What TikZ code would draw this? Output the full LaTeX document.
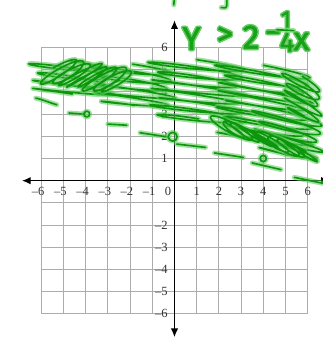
\documentclass[tikz,border=0pt]{standalone}
\usepackage{fontspec}
\setmainfont{Liberation Serif}
\newfontfamily\handfont{Fira Sans}[FakeBold=1.5]
\usetikzlibrary{arrows.meta}
\definecolor{core}{RGB}{12,150,12}
\definecolor{halo}{RGB}{100,205,100}
\definecolor{handc}{RGB}{25,160,25}
\definecolor{gridc}{RGB}{172,172,172}
% looped scribble: centre moves (#1,#2)->(#3,#4); strokes at angle #5, half length #6,
% loop width #7, #8 cycles, #9 samples
\newcommand\scribble[9]{%
  \draw[scrib] plot[smooth,variable=\t,domain=0:#8,samples=#9]
   ({#1+(#3-#1)*\t/#8+#6*(1+0.12*sin(137*\t))*cos(#5)*sin(360*\t)-#7*(1+0.5*sin(71*\t))*sin(#5)*cos(360*\t)},
    {#2+(#4-#2)*\t/#8+#6*(1+0.12*sin(137*\t))*sin(#5)*sin(360*\t)+#7*(1+0.5*sin(71*\t))*cos(#5)*cos(360*\t)});}
\newcommand\hw[4]{%
  \foreach \aa in {0,45,...,315}
    \node[font=\handfont\fontsize{#3}{#3}\selectfont,text=halo,inner sep=0pt,shift={(\aa:1.2pt)}] at (#2) {#4};
  \node[font=\handfont\fontsize{#3}{#3}\selectfont,text=handc,inner sep=0pt] (#1) at (#2) {#4};}
\begin{document}
\begin{tikzpicture}[x=17.76pt,y=17.76pt,
  gridline/.style={draw=gridc,line width=0.7pt},
  axis/.style={draw=black,line width=1.1pt},
  lab/.style={font=\fontsize{10}{10}\selectfont,text=black!80,inner sep=0pt},
  scrib/.style={draw=core,line width=1.3pt,line cap=round,line join=round,
     preaction={draw=halo,line width=4pt,opacity=0.6,line cap=round,line join=round}}]
\useasboundingbox (-7.860,-7.041) rectangle (6.689,8.140);
% grid
\draw[gridline,step=1] (-6,-6) grid (6,6);
% labels
\foreach \i in {1,...,6} {
  \node[lab] (xp\i) at (\i,-0.47) {\i};
  \node[lab] (xn\i) at (-\i,-0.47) {\llap{\textendash}\i};
  \node[lab,anchor=east] (yp\i) at (-0.3,\i) {\i};
}
\foreach \i in {2,...,6} \node[lab,anchor=east] (yn\i) at (-0.3,-\i) {\textendash\i};
\node[lab] (x0) at (-0.29,-0.47) {0};
% axes
\draw[axis,{Latex[length=7pt,width=6pt]}-{Latex[length=7pt,width=6pt]}] (-6.87,0) -- (7.0,0);
\draw[axis,{Latex[length=7pt,width=6pt]}-{Latex[length=7pt,width=6pt]}] (0,-7.05) -- (0,7.23);
% scribbled region
\scribble{-4.7}{5.3}{-4.6}{3.85}{-7}{1.7}{0.1}{4}{97}
\scribble{-1.9}{5.15}{-1.8}{3.3}{-7}{1.7}{0.1}{5}{121}
\scribble{1.0}{5.35}{1.1}{2.65}{-7}{2.0}{0.1}{7}{169}
\scribble{4.0}{5.1}{4.1}{1.7}{-10}{2.0}{0.1}{9}{217}
\scribble{5.1}{3.0}{5.1}{1.05}{-15}{1.5}{0.1}{5}{121}
\scribble{5.7}{4.6}{5.8}{2.8}{-30}{0.9}{0.12}{5}{121}
\scribble{-5.4}{4.95}{-2.4}{4.45}{30}{0.95}{0.15}{8}{193}
\scribble{2.2}{2.5}{5.9}{1.25}{-30}{0.9}{0.15}{9}{217}
% dashed boundary with points
\draw[scrib] (-6.25,3.72) .. controls (-5.9,3.65) and (-5.6,3.5) .. (-5.3,3.42);
\draw[scrib] (-4.75,3.05) -- (-4.1,3.0);
\draw[scrib] (-3.95,3.0) circle (0.13);
\draw[scrib] (-3.0,2.55) -- (-2.15,2.5);
\draw[scrib] (-1.55,2.16) -- (-0.3,1.97);
\draw[scrib] (-0.08,1.98) circle (0.2);
\draw[scrib] (0.1,1.65) -- (1.4,1.5);
\draw[scrib] (1.8,1.25) -- (3.1,1.05);
\draw[scrib] (4.0,1.0) circle (0.14);
\draw[scrib] (3.5,0.8) -- (4.8,0.5);
\draw[scrib] (5.4,0.15) -- (6.7,-0.12);
% handwriting
\draw[scrib] (0.0,8.3) -- (-0.03,7.92);
\draw[scrib] (2.36,8.3) -- (2.36,7.9) .. controls (2.34,7.78) .. (2.1,7.8);
\hw{hy}{0.766,6.405}{26}{Y}
\hw{hgt}{2.27,6.52}{26}{>}
\hw{htwo}{3.45,6.47}{27}{2}
\hw{hmin}{4.44,6.47}{26}{−}
\hw{hone}{5.02,7.26}{19}{1}
\draw[scrib] (4.62,6.8) -- (5.38,6.76);
\hw{hfour}{5.07,6.23}{22}{4}
\hw{hx}{5.72,6.27}{26}{x}
\end{tikzpicture}
\end{document}
